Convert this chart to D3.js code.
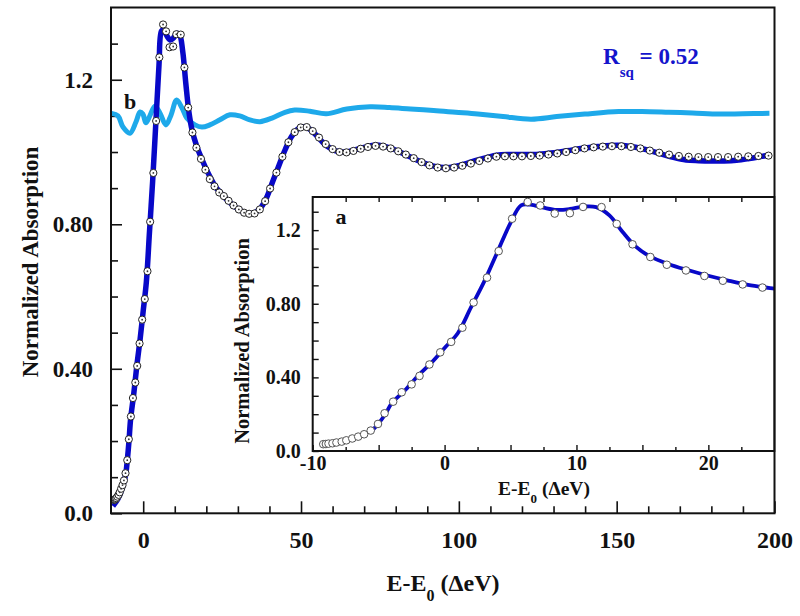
<!DOCTYPE html>
<html><head><meta charset="utf-8">
<script src="https://cdn.jsdelivr.net/npm/d3@7"></script>
<style>
body{margin:0;background:#fff}
text{font-family:"Liberation Serif","Times New Roman",serif;font-weight:bold;fill:#111}
</style>
</head><body>
<svg id="c" width="800" height="616"></svg>
<script>
// ---- data (energy E-E0 in eV, normalized absorption) ----
const dataX = [-9.2,-9.0,-8.8,-8.5,-8.2,-7.8,-7.45,-7.0,-6.55,-6.1,
  -5.6,-5.05,-4.55,-3.9,-3.25,-2.5,-1.9,-1.15,-0.33,0.5,
  1.35,2.2,3.22,4.1,5.12,6.3,7.25,8.35,9.5,10.5,
  11.9,13.05,14.25,15.6,16.85,18.3,19.7,21.1,22.6,24.1,
  25.55,27.04,28.63,30.3,31.98,33.57,35.28,36.95,38.63,40.2,
  42.2,44.1,46.0,48.0,49.9,51.8,53.7,55.7,57.8,60.0,
  62.2,64.4,66.6,68.9,71.2,73.6,76.0,78.4,80.8,83.2,
  85.7,88.2,90.7,93.3,95.9,98.5,101.1,103.8,106.5,109.2,
  111.9,114.6,117.3,120.0,122.8,125.6,128.4,131.2,134.0,136.9,
  139.8,142.7,145.6,148.5,151.5,154.5,157.5,160.5,163.5,166.6,
  169.7,172.8,175.9,179.0,182.1,185.3,188.5,191.7,194.9,198.1];
const dataY = [0.037,0.038,0.040,0.042,0.046,0.051,0.058,0.068,0.078,0.091,
  0.111,0.147,0.205,0.268,0.319,0.362,0.408,0.470,0.536,0.593,
  0.670,0.807,0.942,1.086,1.262,1.353,1.334,1.290,1.292,1.326,
  1.325,1.234,1.123,1.054,1.012,0.981,0.951,0.925,0.905,0.888,
  0.878,0.865,0.852,0.841,0.832,0.829,0.830,0.841,0.864,0.899,
  0.943,0.987,1.027,1.055,1.068,1.069,1.058,1.040,1.022,1.008,
  1.000,0.999,1.003,1.009,1.014,1.017,1.015,1.010,1.002,0.993,
  0.983,0.972,0.963,0.957,0.955,0.957,0.962,0.968,0.975,0.982,
  0.987,0.988,0.988,0.988,0.989,0.990,0.993,0.996,1.000,1.005,
  1.010,1.013,1.015,1.016,1.016,1.014,1.010,1.004,0.998,0.993,
  0.989,0.987,0.986,0.986,0.986,0.986,0.987,0.988,0.989,0.990];
const fitX = [-9.6,-8,-7,-6,-5.5,-5,-4.5,-4,-3,-2,
  -1,0,1,2,3,4,5,5.8,6.5,7.5,
  8.5,9.5,10.5,11.5,12.5,13.5,14.5,15.5,17,18.5,
  20,21.5,23,25,27,29,31,33,35,37,
  39,41,43,45,47,49,51,53,55,57,
  59,61,63,65,67,70,73,76,79,82,
  85,88,91,94,97,100,103,106,109,112,
  116,120,124,128,132,136,140,144,148,152,
  156,160,164,168,172,176,180,184,188,192,
  196,198];
const fitY = [0.02,0.04,0.06,0.09,0.11,0.15,0.2,0.26,0.33,0.41,
  0.48,0.56,0.64,0.78,0.92,1.08,1.24,1.335,1.338,1.322,
  1.31,1.315,1.328,1.325,1.28,1.19,1.11,1.06,1.015,0.982,
  0.952,0.926,0.903,0.882,0.864,0.849,0.837,0.83,0.831,0.843,
  0.872,0.918,0.963,1.007,1.043,1.064,1.07,1.062,1.045,1.026,
  1.012,1.003,1.0,1.001,1.006,1.013,1.019,1.017,1.009,0.997,
  0.985,0.973,0.963,0.958,0.957,0.962,0.970,0.978,0.985,0.991,
  0.993,0.993,0.993,0.996,1.0,1.006,1.011,1.015,1.018,1.018,
  1.013,1.005,0.995,0.985,0.978,0.976,0.975,0.975,0.977,0.982,
  0.988,0.991];
const refX = [-10,-8,-6.4,-4.2,-2.3,-1,-0.1,0.85,2.1,3.7,
  5.3,7.2,8.8,10.6,12.3,13.8,16.4,18.6,21.1,24.3,
  27.5,30.6,33.8,37,40.8,44.9,48,52.8,58,64.5,
  71.9,78,84.7,92,99,106,114,122.9,131,139.9,
  150.6,158,166.5,174,182.5,190,198.4];
const refY = [1.107,1.100,1.069,1.052,1.083,1.111,1.105,1.081,1.100,1.127,
  1.108,1.075,1.102,1.144,1.122,1.094,1.075,1.069,1.075,1.089,
  1.103,1.100,1.089,1.084,1.094,1.110,1.116,1.113,1.106,1.119,
  1.125,1.123,1.119,1.115,1.110,1.105,1.098,1.091,1.098,1.105,
  1.112,1.112,1.110,1.108,1.105,1.106,1.107];

const mainXTicks = [0,50,100,150,200];
const mainXMinor = [10,20,30,40,60,70,80,90,110,120,130,140,160,170,180,190];
const mainYTicks = [0,0.4,0.8,1.2];
const mainYLabels = ["0.0","0.40","0.80","1.2"];
const mainYMinor = [0.1,0.2,0.3,0.5,0.6,0.7,0.9,1.0,1.1,1.3];
const insetXTicks = [-10,0,10,20];
const insetXLabels = ["-10","0","10","20"];
const insetXMid = [-5,5,15];
const insetXMinor = [-7.5,-2.5,2.5,7.5,12.5,17.5,22.5];
const insetTopTicks = [-7.5,-5,-2.5,0,2.5,5,7.5,10,12.5,15,17.5,20,22.5];
const insetYTicks = [0,0.4,0.8,1.2];
const insetYLabels = ["0.0","0.40","0.80","1.2"];
const insetYMinor = [0.1,0.2,0.3,0.5,0.6,0.7,0.9,1.0,1.1,1.3];
const rsqValue = "0.52";

// ---- drawing ----
const svg = d3.select("#c");
const BLUE = "#0808c8", CYAN = "#1ea9ea", TXTBLUE = "#1414cc";

const x = d3.scaleLinear().domain([-10.2, 200]).range([111, 774.5]);
const y = d3.scaleLinear().domain([0, 1.4]).range([513.3, 7.5]);
const idx = n => d3.range(n);

// main axes ticks (inward)
const gx = svg.append("g").attr("transform","translate(0,513.3)");
gx.call(d3.axisBottom(x).tickValues(mainXTicks).tickSize(-12).tickPadding(18).tickFormat(d3.format("d")));
gx.append("g").call(d3.axisBottom(x).tickValues(mainXMinor).tickSize(-7).tickFormat(""));
const gy = svg.append("g").attr("transform","translate(111,0)");
gy.call(d3.axisLeft(y).tickValues(mainYTicks).tickSize(-11).tickPadding(18).tickFormat((d,i)=>mainYLabels[i]));
gy.append("g").call(d3.axisLeft(y).tickValues(mainYMinor).tickSize(-7).tickFormat(""));
svg.selectAll(".domain").remove();
gx.selectAll("text").style("font-size","24px").style("font-family","Liberation Serif").attr("fill","#111");
gy.selectAll("text").style("font-size","23px").style("font-family","Liberation Serif").attr("fill","#111");
svg.selectAll(".tick line").attr("stroke","#111").attr("stroke-width",1.6);

svg.append("defs").append("clipPath").attr("id","mclip").append("rect")
  .attr("x",111).attr("y",7.5).attr("width",663.5).attr("height",505.8);

const mg = svg.append("g").attr("clip-path","url(#mclip)");
mg.append("path").datum(idx(refX.length))
  .attr("d", d3.line().x(i=>x(refX[i])).y(i=>y(refY[i])).curve(d3.curveCatmullRom))
  .attr("fill","none").attr("stroke",CYAN).attr("stroke-width",5);
mg.append("path").datum(idx(fitX.length))
  .attr("d", d3.line().x(i=>x(fitX[i])).y(i=>y(fitY[i])).curve(d3.curveCatmullRom))
  .attr("fill","none").attr("stroke",BLUE).attr("stroke-width",5.5);
const pts = mg.selectAll("g.pt").data(idx(dataX.length)).enter().append("g")
  .attr("transform", i=>`translate(${x(dataX[i])},${y(dataY[i])})`);
pts.append("circle").attr("r",3.6).attr("fill","#fff").attr("stroke","#222").attr("stroke-width",1);
pts.append("circle").attr("r",0.9).attr("fill","#333");

svg.append("rect").attr("x",111).attr("y",7.5).attr("width",663.5).attr("height",505.8)
  .attr("fill","none").attr("stroke","#111").attr("stroke-width",2);

// ---- inset ----
const xi = d3.scaleLinear().domain([-10, 25]).range([312.7, 774.3]);
const yi = d3.scaleLinear().domain([0, 1.38]).range([451, 197]);
svg.append("rect").attr("x",312.7).attr("y",197).attr("width",461.6).attr("height",254).attr("fill","#fff");
svg.select("defs").append("clipPath").attr("id","iclip").append("rect")
  .attr("x",312.7).attr("y",197).attr("width",461.6).attr("height",254);
const ig = svg.append("g").attr("clip-path","url(#iclip)");
const fitIdx = idx(fitX.length).filter(i=>fitX[i] >= -5.6);
ig.append("path").datum(fitIdx)
  .attr("d", d3.line().x(i=>xi(fitX[i])).y(i=>yi(fitY[i])).curve(d3.curveCatmullRom))
  .attr("fill","none").attr("stroke",BLUE).attr("stroke-width",3.8);
ig.selectAll("circle.ip").data(idx(dataX.length).filter(i=>dataX[i] <= 25)).enter().append("circle")
  .attr("cx",i=>xi(dataX[i])).attr("cy",i=>yi(dataY[i])).attr("r",3.8)
  .attr("fill","#fff").attr("stroke","#555").attr("stroke-width",1);

const ix = svg.append("g").attr("transform","translate(0,451)");
ix.call(d3.axisBottom(xi).tickValues(insetXTicks).tickSize(-6).tickPadding(5).tickFormat((d,i)=>insetXLabels[i]));
ix.append("g").call(d3.axisBottom(xi).tickValues(insetXMid).tickSize(-6).tickFormat(""));
ix.append("g").call(d3.axisBottom(xi).tickValues(insetXMinor).tickSize(-4).tickFormat(""));
const it = svg.append("g").attr("transform","translate(0,197)");
it.call(d3.axisTop(xi).tickValues(insetTopTicks).tickSize(-5).tickFormat(""));
const iy = svg.append("g").attr("transform","translate(312.7,0)");
iy.call(d3.axisLeft(yi).tickValues(insetYTicks).tickSize(-6).tickPadding(12).tickFormat((d,i)=>insetYLabels[i]));
iy.append("g").call(d3.axisLeft(yi).tickValues(insetYMinor).tickSize(-6).tickFormat(""));
[ix,it,iy].forEach(g=>{g.selectAll(".domain").remove();
  g.selectAll("text").style("font-size","20px").style("font-family","Liberation Serif").attr("fill","#111");
  g.selectAll(".tick line").attr("stroke","#111").attr("stroke-width",1.4);});
svg.append("rect").attr("x",312.7).attr("y",197).attr("width",461.6).attr("height",254)
  .attr("fill","none").attr("stroke","#111").attr("stroke-width",2);

// ---- labels ----
function eLabel(cx, by, fs, sub){
  const t = svg.append("text").attr("x",cx).attr("y",by).attr("text-anchor","middle").style("font-size",fs+"px");
  t.append("tspan").text("E-E");
  t.append("tspan").text("0").style("font-size",sub+"px").attr("dy",fs*0.4);
  t.append("tspan").text(" (\u0394eV)").attr("dy",-fs*0.4);
}
eLabel(443, 591, 24, 16);
eLabel(544, 495, 19.5, 13);

svg.append("text").attr("transform","translate(38,262) rotate(-90)").attr("text-anchor","middle")
  .style("font-size","23px").text("Normalized Absorption");
svg.append("text").attr("transform","translate(249,341) rotate(-90)").attr("text-anchor","middle")
  .style("font-size","20.5px").text("Normalized Absorption");

svg.append("text").attr("x",130).attr("y",109).attr("text-anchor","middle").style("font-size","22px").text("b");
svg.append("text").attr("x",341).attr("y",224).attr("text-anchor","middle").style("font-size","22px").text("a");

const r = svg.append("text").attr("x",603).attr("y",64).style("font-size","23px").style("fill",TXTBLUE);
r.append("tspan").text("R");
r.append("tspan").text("sq").style("font-size","15px").attr("dy",13);
r.append("tspan").text(" = " + rsqValue).attr("dy",-13);
</script>
</body></html>
